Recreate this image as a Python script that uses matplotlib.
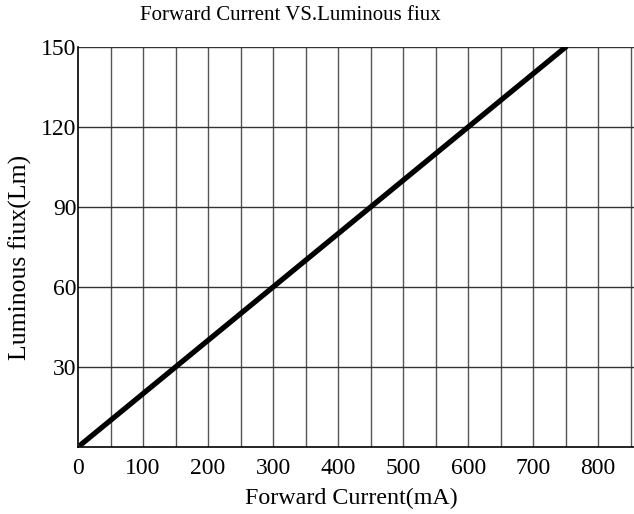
import matplotlib.pyplot as plt

# Forward current (mA) vs luminous flux (Lm)
current = [5, 750]
flux = [1, 150]

x_ticks = [0, 100, 200, 300, 400, 500, 600, 700, 800]
y_ticks = [30, 60, 90, 120, 150]

plt.rcParams['font.family'] = ['Liberation Serif', 'DejaVu Serif']

fig = plt.figure(figsize=(6.34, 5.14), dpi=100)
ax = fig.add_axes([78 / 634, 67 / 514, 556 / 634, 400 / 514])

# grid: vertical every 50 mA, horizontal every 30 Lm
for gx in range(50, 855, 50):
    ax.axvline(gx, color='#555555', lw=1.0, zorder=1)
for gy in y_ticks:
    ax.axhline(gy, color='#333333', lw=1.0, zorder=1)

ax.plot(current, flux, color='black', lw=3.8, solid_capstyle='round', zorder=3)

ax.set_xlim(0, 855)
ax.set_ylim(0, 150)
ax.set_xticks(x_ticks)
ax.set_yticks(y_ticks)
ax.tick_params(length=0, labelsize=17)
ax.tick_params(axis='x', pad=8)
ax.tick_params(axis='y', pad=1)
for s in ['top', 'right']:
    ax.spines[s].set_visible(False)
for s in ['left', 'bottom']:
    ax.spines[s].set_color('black')
    ax.spines[s].set_linewidth(1.2)

fig.text(351 / 634, 1 - 498 / 514, 'Forward Current(mA)',
         fontsize=17.3, ha='center', va='center')
fig.text(20 / 634, 1 - 257 / 514, 'Luminous fiux(Lm)',
         fontsize=18.5, ha='center', va='center', rotation=90)
fig.text(290 / 634, 1 - 16 / 514, 'Forward Current VS.Luminous fiux',
         fontsize=15, ha='center', va='center')

fig.savefig('out.png', dpi=100)
